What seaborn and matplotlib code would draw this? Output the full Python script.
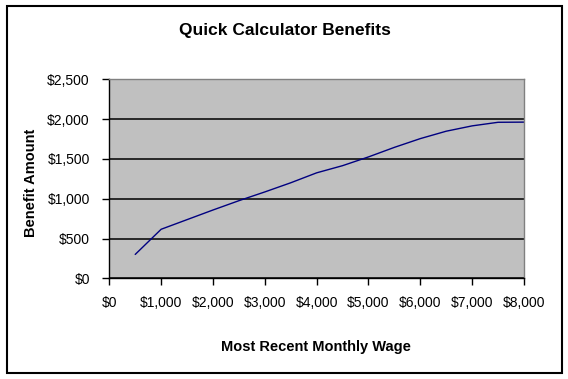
import matplotlib
matplotlib.use('Agg')
import matplotlib.pyplot as plt
import matplotlib.ticker as mticker
from matplotlib.patches import Rectangle
import pandas as pd
import seaborn as sns

# values
wage = [500, 1000, 1500, 2000, 2500, 3000, 3500, 4000,
        4500, 5000, 5500, 6000, 6500, 7000, 7500, 8000]
benefit = [300, 616, 737, 858, 975, 1085, 1200, 1325,
           1415, 1525, 1645, 1755, 1848, 1915, 1960, 1962]

x_ticks = list(range(0, 8001, 1000))
y_ticks = list(range(0, 2501, 500))

df = pd.DataFrame({'wage': wage, 'benefit': benefit})

sns.set_style('white')
plt.rcParams['font.family'] = ['Liberation Sans', 'DejaVu Sans']
plt.rcParams['text.color'] = 'black'

fig = plt.figure(figsize=(5.68, 3.79), dpi=100)
ax = fig.add_axes([109.3 / 568, 1 - 278.3 / 379, (524 - 109.3) / 568, (278.3 - 79.3) / 379])
ax.set_facecolor('#C0C0C0')

sns.lineplot(data=df, x='wage', y='benefit', ax=ax, color='#000080', linewidth=1.0)

ax.set_xlim(0, 8000)
ax.set_ylim(0, 2500)
ax.set_xticks(x_ticks)
ax.set_yticks(y_ticks)
ax.xaxis.set_major_formatter(mticker.FuncFormatter(lambda v, p: '${:,.0f}'.format(v)))
ax.yaxis.set_major_formatter(mticker.FuncFormatter(lambda v, p: '${:,.0f}'.format(v)))
ax.yaxis.grid(True, color='black', linewidth=1.1)
ax.xaxis.grid(False)
ax.set_axisbelow(True)

ax.tick_params(axis='both', direction='out', length=5, width=1, color='black',
               labelsize=10, labelcolor='black', bottom=True, left=True)
ax.tick_params(axis='x', pad=8)
ax.tick_params(axis='y', pad=9)

for side in ['left', 'bottom']:
    ax.spines[side].set_color('black')
    ax.spines[side].set_linewidth(1)
for side in ['top', 'right']:
    ax.spines[side].set_color('#808080')
    ax.spines[side].set_linewidth(1)

ax.set_xlabel('')
ax.set_ylabel('')
fig.text(316 / 568, 1 - 347 / 379, 'Most Recent Monthly Wage', ha='center', va='center',
         fontsize=10.5, fontweight='bold', color='black')
fig.text(31 / 568, 1 - 183 / 379, 'Benefit Amount', ha='center', va='center',
         rotation=90, fontsize=10.5, fontweight='bold', color='black')
fig.text(285 / 568, 1 - 30 / 379, 'Quick Calculator Benefits', ha='center', va='center',
         fontsize=12.5, fontweight='bold', color='black')

# outer chart border
fig.patches.append(Rectangle((7 / 568, 1 - 373 / 379), (562 - 7) / 568, (373 - 6) / 379,
                             transform=fig.transFigure, fill=False, edgecolor='black',
                             linewidth=1.5))

fig.savefig('out.png', dpi=100)
